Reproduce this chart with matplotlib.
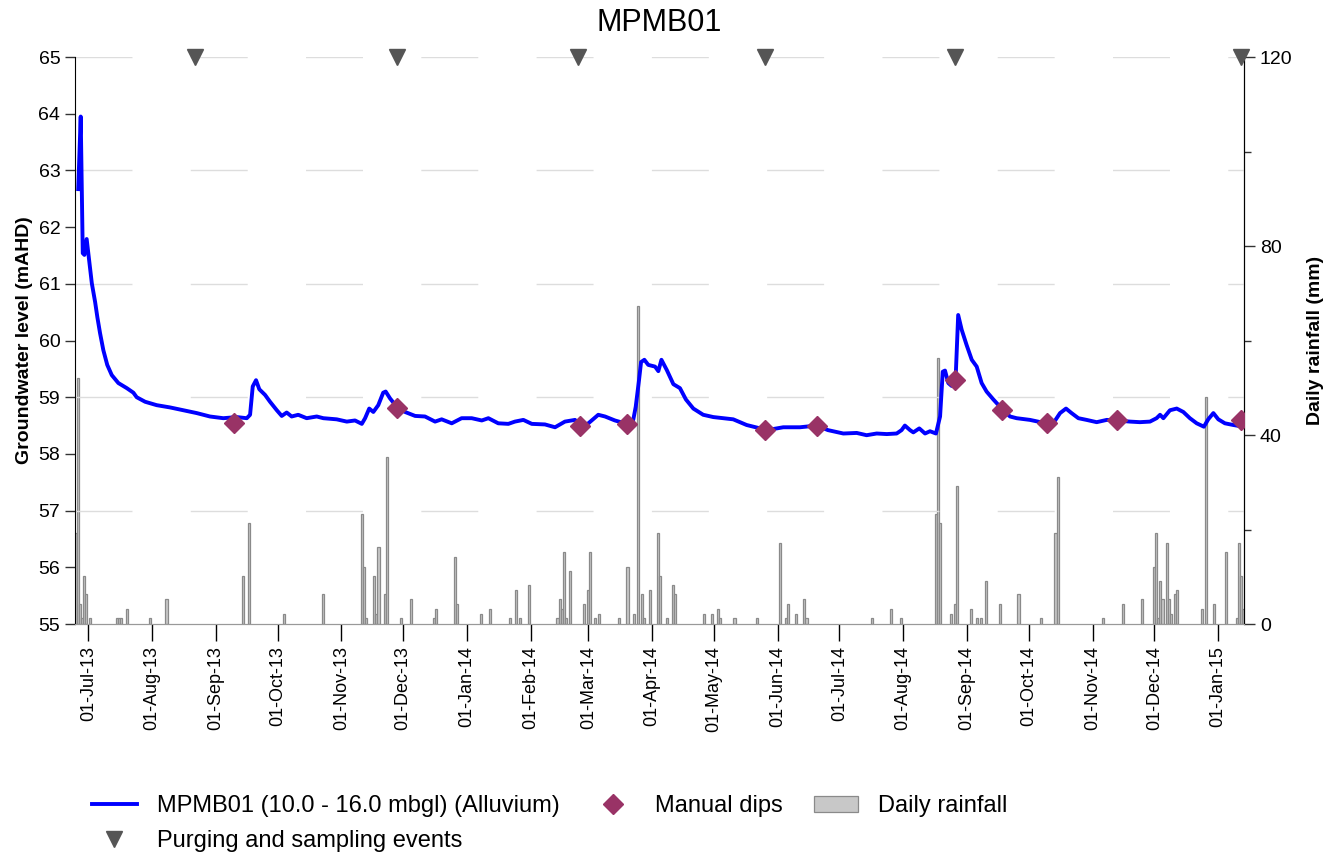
import matplotlib
matplotlib.use("Agg")
import matplotlib.pyplot as plt
import matplotlib.dates as mdates
import numpy as np
import pandas as pd

plt.rcParams['font.family'] = ['Liberation Sans', 'DejaVu Sans']

# all x values are days after 01-Jul-2013
base = pd.Timestamp("2013-07-01")

# logger record, MPMB01 (mAHD)
gw_day = [-4.9, -3.7, -2.7, -1.9, -0.8, 0.0, 1.7, 3.3, 4.4, 5.7, 7.3, 9.2, 11.4, 14.6,
          18.7, 21.9, 23.5, 27.6, 33.2, 39.7, 46.2, 52.7, 59.1, 65.6, 72.1, 77.0, 78.6,
          79.9, 81.5, 83.1, 85.9, 88.3, 91.6, 94.0, 96.4, 98.8, 102.0, 106.1, 111.0,
          114.2, 120.7, 125.6, 129.6, 132.9, 134.5, 136.5, 138.5, 140.9, 143.3, 144.5,
          146.6, 149.9, 153.9, 158.8, 163.6, 168.5, 171.7, 176.6, 181.4, 186.3, 191.2,
          194.4, 199.2, 204.1, 207.3, 211.4, 215.5, 221.9, 226.8, 231.6, 236.5, 239.8,
          243.0, 247.8, 251.1, 255.9, 261.6, 264.8, 266.0, 267.6, 268.6, 270.2, 272.1,
          275.4, 277.0, 278.5, 281.1, 284.3, 287.5, 290.4, 294.0, 298.8, 303.7, 313.4,
          319.9, 326.4, 329.8, 337.7, 345.8, 353.9, 359.4, 366.9, 373.4, 378.2, 383.1,
          388.0, 392.8, 395.2, 396.8, 399.3, 400.9, 403.8, 406.6, 409.0, 411.9, 413.9,
          415.2, 416.3, 417.9, 419.5, 421.4, 422.7, 424.4, 426.8, 429.3, 431.7, 434.1,
          436.5, 439.8, 444.6, 447.9, 451.1, 457.6, 464.0, 468.9, 472.2, 475.1, 477.8,
          481.1, 485.1, 490.0, 494.9, 499.7, 506.2, 511.0, 515.9, 519.1, 520.8, 522.4,
          525.6, 528.9, 532.1, 535.3, 538.6, 542.1, 544.2, 546.7, 549.1, 552.3, 556.4,
          559.6, 561.6]
gw_level = [62.67, 63.95, 61.54, 61.51, 61.79, 61.54, 61.01, 60.68, 60.41, 60.13, 59.83,
            59.57, 59.39, 59.25, 59.16, 59.08, 59.00, 58.92, 58.86, 58.82, 58.77, 58.72,
            58.66, 58.63, 58.65, 58.63, 58.69, 59.19, 59.30, 59.14, 59.04, 58.92, 58.77,
            58.67, 58.73, 58.66, 58.69, 58.63, 58.66, 58.63, 58.61, 58.57, 58.59, 58.53,
            58.63, 58.80, 58.74, 58.86, 59.08, 59.10, 58.98, 58.83, 58.74, 58.67, 58.66,
            58.57, 58.61, 58.54, 58.63, 58.63, 58.59, 58.63, 58.54, 58.53, 58.57, 58.60,
            58.53, 58.52, 58.47, 58.57, 58.60, 58.49, 58.54, 58.69, 58.66, 58.59, 58.53,
            58.60, 58.83, 59.30, 59.62, 59.66, 59.57, 59.54, 59.46, 59.66, 59.48, 59.23,
            59.16, 58.96, 58.80, 58.69, 58.65, 58.61, 58.51, 58.45, 58.42, 58.47, 58.47,
            58.50, 58.42, 58.36, 58.37, 58.33, 58.36, 58.35, 58.36, 58.42, 58.50, 58.42,
            58.38, 58.45, 58.36, 58.40, 58.36, 58.66, 59.45, 59.47, 59.25, 59.20, 59.28,
            60.45, 60.19, 59.92, 59.66, 59.54, 59.25, 59.10, 58.96, 58.77, 58.66, 58.63,
            58.60, 58.55, 58.54, 58.72, 58.80, 58.72, 58.63, 58.60, 58.56, 58.60, 58.59,
            58.57, 58.56, 58.57, 58.63, 58.69, 58.63, 58.77, 58.80, 58.74, 58.63, 58.54,
            58.48, 58.61, 58.72, 58.61, 58.54, 58.51, 58.49, 58.66]

# manual dips
dip_day = [71, 150, 239, 262, 329, 354, 421, 444, 466, 500, 560]
dip_level = [58.55, 58.81, 58.50, 58.53, 58.43, 58.50, 59.30, 58.77, 58.54, 58.59, 58.59]

# purging and sampling events
purge_day = [52, 150, 238, 329, 421, 560]

# daily rainfall (mm)
rain_day = [-6, -5, -4, -3, -2, -1, 1, 14, 15, 16, 19, 30, 38, 75, 78, 95, 114, 133, 134,
            135, 139, 140, 141, 144, 145, 152, 157, 168, 169, 178, 179, 191, 195, 205, 208,
            210, 214, 228, 229, 230, 231, 232, 234, 241, 243, 244, 246, 248, 258, 262, 265,
            267, 269, 270, 273, 277, 278, 281, 284, 285, 299, 303, 306, 307, 314, 325, 336,
            339, 340, 344, 348, 349, 381, 390, 395, 412, 413, 414, 419, 421, 422, 429, 432,
            434, 436, 443, 452, 463, 470, 471, 493, 503, 512, 518, 519, 520, 521, 522, 524,
            525, 526, 528, 529, 541, 543, 547, 553, 558, 559, 560, 561]
rain_mm = [19.2, 52.1, 4.2, 1.3, 10.2, 6.3, 1.2, 1.2, 1.2, 1.2, 3.2, 1.2, 5.2, 10.2, 21.3,
           2.1, 6.3, 23.2, 12.1, 1.2, 10.2, 2.1, 16.2, 6.3, 35.3, 1.2, 5.2, 1.2, 3.2, 14.2,
           4.2, 2.1, 3.2, 1.2, 7.1, 1.2, 8.2, 1.2, 5.2, 3.2, 15.2, 1.2, 11.2, 4.2, 7.1, 15.2,
           1.2, 2.1, 1.2, 12.1, 2.1, 67.2, 6.3, 1.2, 7.1, 19.2, 10.2, 1.2, 8.2, 6.3, 2.1,
           2.1, 3.2, 1.2, 1.2, 1.2, 17.1, 1.2, 4.2, 2.1, 5.2, 1.2, 1.2, 3.2, 1.2, 23.2, 56.2,
           21.3, 2.1, 4.2, 29.3, 3.2, 1.2, 1.2, 9.2, 4.2, 6.3, 1.2, 19.2, 31.2, 1.2, 4.2,
           5.2, 12.1, 19.2, 1.2, 9.2, 5.2, 17.1, 5.2, 2.1, 6.3, 7.1, 3.2, 48.1, 4.2, 15.2,
           1.2, 17.1, 10.2, 3.2]


def to_dates(days):
    return base + pd.to_timedelta(np.array(days, dtype=float), unit="D")


fig = plt.figure(figsize=(13.43, 8.56), dpi=100)
ax = fig.add_axes([0.0558, 0.271, 0.8705, 0.6624])
ax2 = ax.twinx()

# rainfall on the right axis, behind the levels
ax2.bar(to_dates(rain_day), rain_mm, width=1.0, color="#c8c8c8", edgecolor="#8a8a8a",
        linewidth=0.9, label="Daily rainfall")
ax2.set_ylim(0, 120)
ax2.set_yticks([0, 40, 80, 120])
ax2.set_yticks([20, 60, 100], minor=True)
ax2.tick_params(axis="y", which="major", length=8, width=1, labelsize=14, color="#333333")
ax2.tick_params(axis="y", which="minor", length=5, width=1, color="#333333")
ax2.set_ylabel("Daily rainfall (mm)", fontsize=14, fontweight="bold", labelpad=10)

ax.set_zorder(ax2.get_zorder() + 1)
ax.patch.set_visible(False)

for lev in [57, 59, 61, 63, 65]:
    ax.axhline(lev, color="#dddddd", linewidth=1, linestyle=(0, (41, 42)), zorder=0)

ax.plot(to_dates(gw_day), gw_level, color="#0000ff", linewidth=2.8,
        label="MPMB01 (10.0 - 16.0 mbgl) (Alluvium)", zorder=3)
ax.plot(to_dates(dip_day), dip_level, linestyle="none", marker="D", markersize=10,
        color="#993366", label="Manual dips", zorder=4)
ax.plot(to_dates(purge_day), [65] * len(purge_day), linestyle="none", marker="v",
        markersize=12, color="#555555", label="Purging and sampling events",
        zorder=5, clip_on=False)

ax.set_ylim(55, 65)
ax.set_yticks(range(55, 66))
ax.set_xlim(base + pd.Timedelta(days=-6.5), base + pd.Timedelta(days=561.6))
ax.xaxis.set_major_locator(mdates.MonthLocator(bymonthday=1))
ax.xaxis.set_major_formatter(mdates.DateFormatter("%d-%b-%y"))
ax.tick_params(axis="x", length=12, width=1, labelsize=13, labelrotation=90, pad=4)
ax.tick_params(axis="y", length=7, width=1, labelsize=14, color="#333333")
ax.set_ylabel("Groundwater level (mAHD)", fontsize=14, fontweight="bold", labelpad=4)
ax.set_title("MPMB01", fontsize=22, pad=19)

for a in (ax, ax2):
    a.spines["top"].set_visible(False)
    a.spines["bottom"].set_color("#999999")
ax2.spines["left"].set_visible(False)

h1, l1 = ax.get_legend_handles_labels()
h2, l2 = ax2.get_legend_handles_labels()
handles = [h1[0], h1[2], h1[1], h2[0]]
labels = [l1[0], l1[2], l1[1], l2[0]]
fig.legend(handles, labels, loc="upper left", bbox_to_anchor=(0.0525, 0.096), ncol=3,
           frameon=False, fontsize=17, handlelength=1.9, handletextpad=0.85,
           columnspacing=1.3, labelspacing=0.55, markerscale=1.0)

fig.savefig("out.png", dpi=100)
